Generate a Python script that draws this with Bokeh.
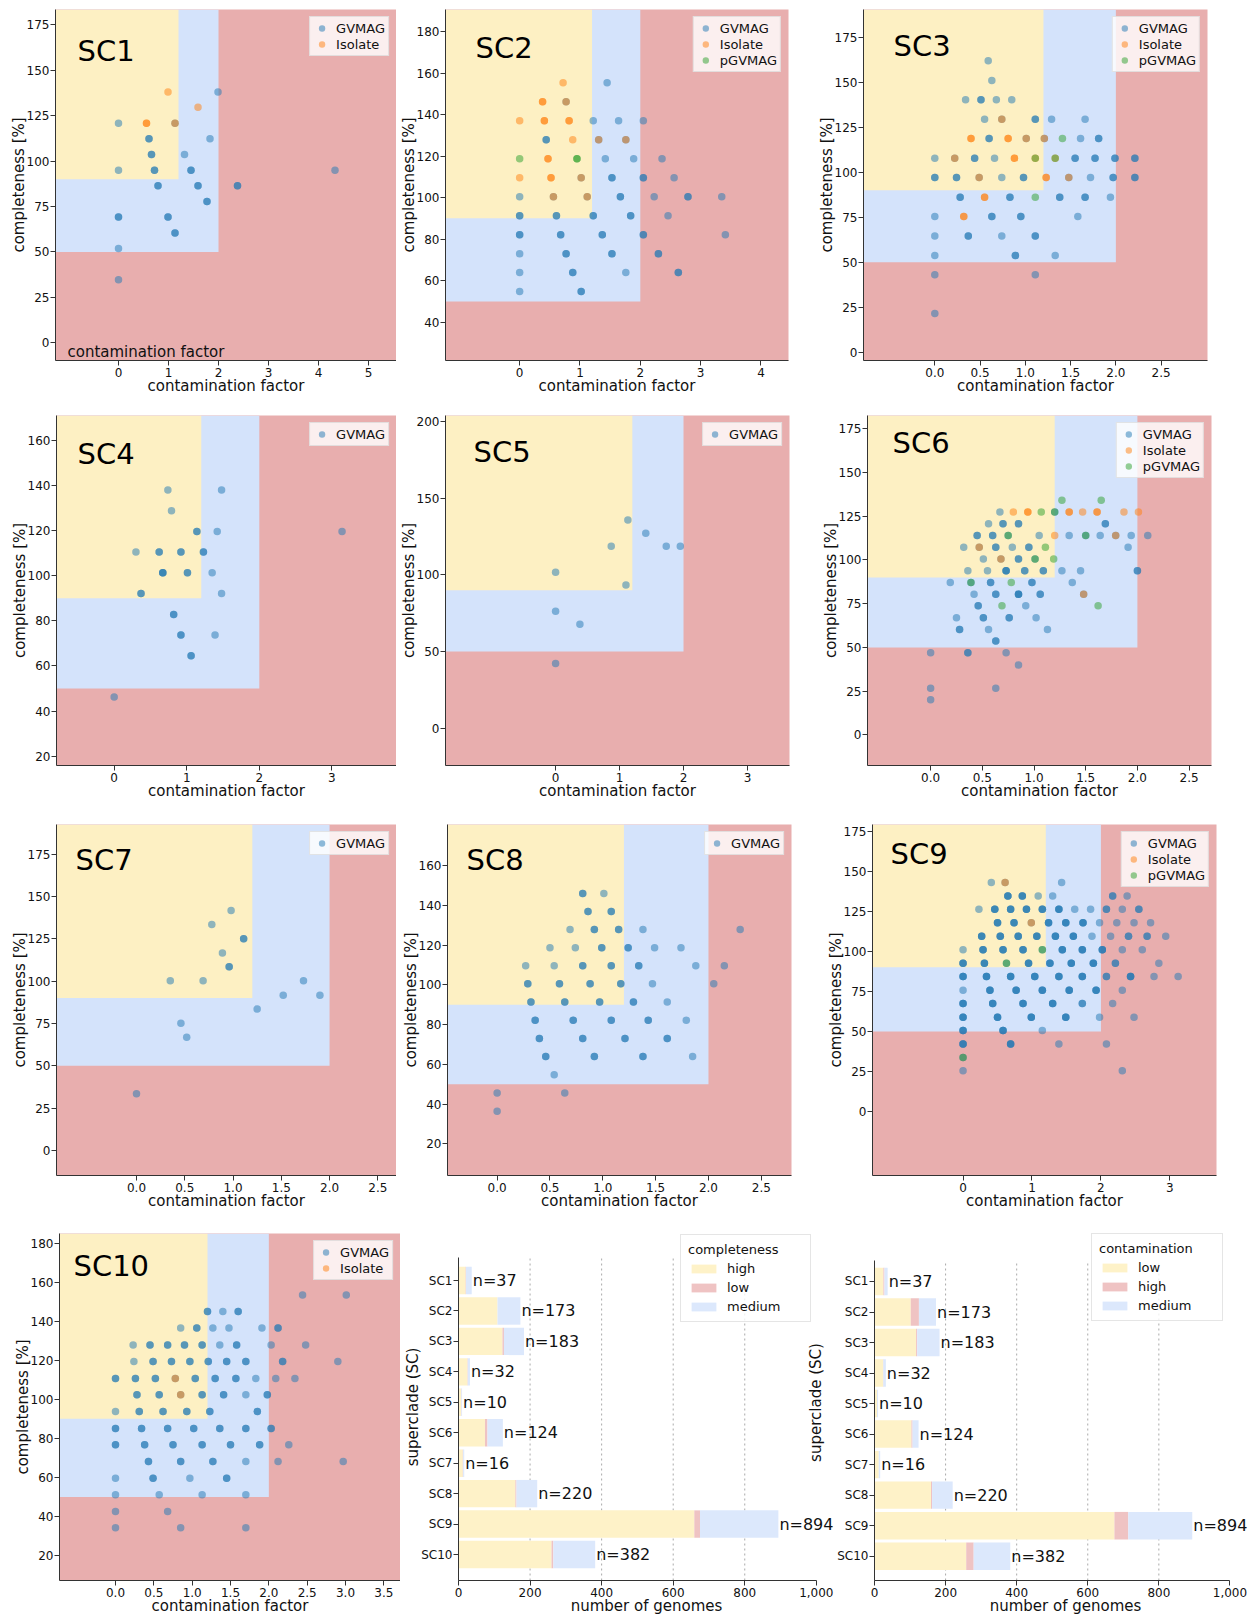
import math
import numpy as np
from bokeh.plotting import figure
from bokeh.layouts import column, row
from bokeh.models import (BoxAnnotation, ColumnDataSource, FixedTicker, Label, LabelSet,
                          Legend, LegendItem, NumeralTickFormatter, Range1d)
from bokeh.core.properties import value
from bokeh.embed import file_html
from bokeh.resources import INLINE

# ---------------------------------------------------------------- data
X_LABEL = "contamination factor"
Y_LABEL = "completeness [%]"

# thresholds of the shaded quality regions
HIGH_COMPLETENESS = 90
MIN_COMPLETENESS = 50
LOW_CONTAMINATION = 1.2
MAX_CONTAMINATION = 2.0

# ---- SC1
SC1_GVMAG_X = [0, 0, 0, 0, 0, 1.13, 1.99, 0.61, 1.83, 0.66, 1.32, 0.72, 1.45, 4.33, 0.79, 1.59, 2.38, 1.77, 0.99, 1.13]
SC1_GVMAG_Y = [120.9, 95, 69.2, 51.9, 34.7, 120.9, 138.1, 112.3, 112.3, 103.6, 103.6, 95, 95, 95, 86.4, 86.4, 86.4, 77.8, 69.2, 60.5]
SC1_GVMAG_N = [1, 1, 2, 1, 1, 1, 1, 2, 1, 2, 1, 2, 2, 1, 2, 2, 2, 2, 2, 2]
SC1_ISOLATE_X = [0.99, 1.59, 0.56, 1.13]
SC1_ISOLATE_Y = [138.1, 129.7, 120.9, 120.9]
SC1_ISOLATE_N = [1, 1, 2, 1]
SC1_XTICKS = [0, 1, 2, 3, 4, 5]
SC1_YTICKS = [0, 25, 50, 75, 100, 125, 150, 175]

# ---- SC2
SC2_GVMAG_X = [1.45, 0.77, 1.22, 1.64, 2.05, 0.44, 1.31, 1.76, 1.42, 1.89, 2.36,
               1.02, 1.53, 2.05, 2.56, 0, 0.56, 1.12, 1.67, 2.23, 2.79, 3.35,
               0, 0.61, 1.22, 1.84, 2.46, 0, 0.68, 1.37, 2.05, 3.41,
               0, 0.77, 1.53, 2.30, 0, 0.88, 1.76, 2.63, 0, 1.02]
SC2_GVMAG_Y = [155.3, 146.1, 137, 137, 137, 127.8, 127.8, 127.8, 118.7, 118.7, 118.7,
               109.5, 109.5, 109.5, 109.5, 100.4, 100.4, 100.4, 100.4, 100.4, 100.4, 100.4,
               91.2, 91.2, 91.2, 91.2, 91.2, 82.1, 82.1, 82.1, 82.1, 82.1,
               72.9, 72.9, 72.9, 72.9, 63.9, 63.9, 63.9, 63.9, 54.8, 54.8]
SC2_GVMAG_N = [1, 1, 1, 1, 1, 2, 1, 1, 1, 1, 1,
               1, 2, 2, 1, 1, 1, 1, 2, 1, 2, 1,
               2, 2, 2, 2, 1, 2, 2, 2, 2, 1,
               1, 2, 2, 2, 1, 2, 1, 2, 1, 2]
SC2_ISOLATE_X = [0.72, 0.38, 0.77, 0, 0.41, 0.82, 0.88, 1.31, 1.76, 0.47, 0, 0.52, 1.02, 0.56, 1.12]
SC2_ISOLATE_Y = [155.3, 146.1, 146.1, 137, 137, 137, 127.8, 127.8, 127.8, 118.7, 109.5, 109.5, 109.5, 100.4, 100.4]
SC2_ISOLATE_N = [1, 2, 1, 1, 2, 2, 1, 1, 1, 2, 1, 2, 1, 1, 1]
SC2_PGVMAG_X = [0, 0.95]
SC2_PGVMAG_Y = [118.7, 118.7]
SC2_PGVMAG_N = [1, 2]
SC2_XTICKS = [0, 1, 2, 3, 4]
SC2_YTICKS = [40, 60, 80, 100, 120, 140, 160, 180]

# ---- SC3
SC3_GVMAG_X = [0.59, 0.63, 0.34, 0.51, 0.68, 0.85,
               0.55, 0.74, 1.11, 1.29, 1.66,
               0.60, 1.01, 1.21, 1.61, 1.81,
               0, 0.22, 0.44, 0.66, 1.55, 1.77, 1.99, 2.21,
               0, 0.24, 0.49, 0.74, 0.98, 1.48, 1.72, 1.97, 2.21,
               0.28, 0.83, 1.38, 1.66, 1.94,
               0, 0.63, 0.95, 1.58,
               0, 0.37, 0.74, 1.11,
               0, 0.89, 1.33,
               0, 1.11, 0]
SC3_GVMAG_Y = [161.9, 150.9, 140.2, 140.2, 140.2, 140.2,
               129.4, 129.4, 129.4, 129.4, 129.4,
               118.7, 118.7, 118.7, 118.7, 118.7,
               107.8, 107.8, 107.8, 107.8, 107.8, 107.8, 107.8, 107.8,
               97, 97, 97, 97, 97, 97, 97, 97, 97,
               86.1, 86.1, 86.1, 86.1, 86.1,
               75.4, 75.4, 75.4, 75.4,
               64.6, 64.6, 64.6, 64.6,
               53.7, 53.7, 53.7,
               43, 43, 21.5]
SC3_GVMAG_N = [1, 1, 1, 2, 1, 1,
               1, 1, 2, 1, 1,
               2, 1, 1, 1, 2,
               1, 1, 2, 1, 2, 2, 2, 2,
               2, 2, 1, 1, 2, 1, 1, 2, 2,
               2, 2, 2, 2, 1,
               1, 2, 2, 1,
               1, 2, 1, 2,
               1, 2, 1,
               1, 1, 1]
SC3_ISOLATE_X = [0.74, 0.40, 0.81, 1.01, 1.21, 0.22, 0.88, 1.11, 1.33, 0.49, 1.23, 1.48, 0.55, 0.32]
SC3_ISOLATE_Y = [129.4, 118.7, 118.7, 118.7, 118.7, 107.8, 107.8, 107.8, 107.8, 97, 97, 97, 86.1, 75.4]
SC3_ISOLATE_N = [1, 2, 2, 1, 1, 1, 2, 1, 1, 1, 2, 1, 2, 2]
SC3_PGVMAG_X = [1.41, 1.11, 1.33, 1.11]
SC3_PGVMAG_Y = [118.7, 107.8, 107.8, 86.1]
SC3_PGVMAG_N = [1, 1, 1, 1]
SC3_XTICKS = [0.0, 0.5, 1.0, 1.5, 2.0, 2.5]
SC3_YTICKS = [0, 25, 50, 75, 100, 125, 150, 175]

# ---- SC4
SC4_GVMAG_X = [0.74, 1.48, 0.79, 1.14, 1.42, 3.14, 0.30, 0.62, 0.92, 1.23, 0.67, 1.01, 1.35, 0.37, 1.48, 0.82, 0.92, 1.39, 1.06, 0]
SC4_GVMAG_Y = [138, 138, 128.8, 119.6, 119.6, 119.6, 110.5, 110.5, 110.5, 110.5, 101.3, 101.3, 101.3, 92.1, 92.1, 82.8, 73.7, 73.7, 64.5, 46.2]
SC4_GVMAG_N = [1, 1, 1, 2, 1, 1, 1, 2, 2, 2, 3, 2, 1, 2, 1, 2, 2, 1, 2, 1]
SC4_XTICKS = [0, 1, 2, 3]
SC4_YTICKS = [20, 40, 60, 80, 100, 120, 140, 160]

# ---- SC5
SC5_GVMAG_X = [1.13, 1.41, 0.87, 1.73, 1.95, 0, 1.10, 0, 0.38, 0]
SC5_GVMAG_Y = [135.7, 127.2, 118.7, 118.7, 118.7, 101.7, 93.3, 76.3, 67.8, 42.2]
SC5_GVMAG_N = [1, 1, 1, 1, 1, 1, 1, 1, 1, 1]
SC5_XTICKS = [0, 1, 2, 3]
SC5_YTICKS = [0, 50, 100, 150, 200]

# ---- SC6
SC6_GVMAG_X = [0.67, 1.20,
               0.56, 0.70, 0.85, 1.69,
               0.45, 0.60, 0.75, 1.05, 1.34, 1.50, 1.64, 1.79, 1.94, 2.10,
               0.32, 0.47, 0.63, 0.79, 0.95, 1.91,
               0.51, 0.68, 0.85, 1.01,
               0.36, 0.55, 0.73, 0.91, 1.09, 1.27, 1.45, 2.00,
               0.19, 0.39, 0.58, 0.98, 1.37,
               0.42, 0.63, 0.85, 1.06, 1.48,
               0.46, 0.92,
               0.25, 0.51, 0.76, 1.02,
               0.28, 0.56, 1.13,
               0.63,
               0, 0.36, 0.73,
               0.85,
               0, 0.63,
               0]
SC6_GVMAG_Y = [127.5, 127.5,
               120.7, 120.7, 120.7, 120.7,
               114, 114, 114, 114, 114, 114, 114, 114, 114, 114,
               107.3, 107.3, 107.3, 107.3, 107.3, 107.3,
               100.6, 100.6, 100.6, 100.6,
               93.8, 93.8, 93.8, 93.8, 93.8, 93.8, 93.8, 93.8,
               87.1, 87.1, 87.1, 87.1, 87.1,
               80.4, 80.4, 80.4, 80.4, 80.4,
               73.8, 73.8,
               66.9, 66.9, 66.9, 66.9,
               60.2, 60.2, 60.2,
               53.6,
               46.9, 46.9, 46.9,
               40,
               26.7, 26.7,
               20]
SC6_GVMAG_N = [1, 1,
               1, 2, 2, 2,
               2, 2, 1, 1, 1, 1, 1, 1, 1, 1,
               1, 1, 2, 1, 2, 1,
               1, 1, 2, 1,
               1, 1, 3, 2, 2, 1, 1, 2,
               1, 1, 2, 2, 1,
               1, 2, 3, 2, 1,
               2, 1,
               1, 2, 2, 1,
               2, 1, 1,
               2,
               1, 2, 1,
               1,
               1, 1,
               1]
SC6_ISOLATE_X = [0.80, 0.94, 1.34, 1.47, 1.61, 1.87, 2.01, 1.20, 1.79, 0.47, 0.68, 1.48]
SC6_ISOLATE_Y = [127.5, 127.5, 127.5, 127.5, 127.5, 127.5, 127.5, 114, 114, 107.3, 100.6, 80.4]
SC6_ISOLATE_N = [1, 2, 2, 1, 2, 1, 1, 1, 1, 1, 1, 1]
SC6_PGVMAG_X = [1.27, 1.65, 1.07, 1.20, 0.75, 1.50, 1.11, 1.01, 1.19, 0.39, 0.78, 0.69, 1.62]
SC6_PGVMAG_Y = [134.2, 134.2, 127.5, 127.5, 114, 114, 107.3, 100.6, 100.6, 87.1, 87.1, 73.8, 73.8]
SC6_PGVMAG_N = [1, 1, 1, 1, 1, 1, 1, 1, 1, 1, 1, 1, 1]
SC6_XTICKS = [0.0, 0.5, 1.0, 1.5, 2.0, 2.5]
SC6_YTICKS = [0, 25, 50, 75, 100, 125, 150, 175]

# ---- SC7
SC7_GVMAG_X = [0.98, 0.78, 1.11, 0.89, 0.96, 0.35, 0.69, 1.73, 1.52, 1.90, 1.25, 0.46, 0.52, 0]
SC7_GVMAG_Y = [141.7, 133.5, 125, 116.7, 108.5, 100.2, 100.2, 100.2, 91.7, 91.7, 83.5, 75.2, 66.9, 33.5]
SC7_GVMAG_N = [1, 1, 2, 1, 2, 1, 1, 1, 1, 1, 1, 1, 1, 1]
SC7_XTICKS = [0.0, 0.5, 1.0, 1.5, 2.0, 2.5]
SC7_YTICKS = [0, 25, 50, 75, 100, 125, 150, 175]

# ---- SC8
SC8_GVMAG_X = [0.81, 1.01,
               0.86, 1.08,
               0.69, 0.92, 1.15, 1.38, 2.30,
               0.50, 0.74, 0.99, 1.24, 1.49, 1.74,
               0.27, 0.54, 0.81, 1.08, 1.34, 1.88, 2.15,
               0.29, 0.59, 0.88, 1.17, 1.47, 2.05,
               0.32, 0.64, 0.97, 1.29, 1.61,
               0.36, 0.72, 1.08, 1.43, 1.79,
               0.40, 0.81, 1.21, 1.61,
               0.46, 0.92, 1.38, 1.85,
               0.54,
               0, 0.64,
               0]
SC8_GVMAG_Y = [145.9, 145.9,
               136.9, 136.9,
               127.8, 127.8, 127.8, 127.8, 127.8,
               118.6, 118.6, 118.6, 118.6, 118.6, 118.6,
               109.6, 109.6, 109.6, 109.6, 109.6, 109.6, 109.6,
               100.5, 100.5, 100.5, 100.5, 100.5, 100.5,
               91.3, 91.3, 91.3, 91.3, 91.3,
               82.2, 82.2, 82.2, 82.2, 82.2,
               73, 73, 73, 73,
               63.9, 63.9, 63.9, 63.9,
               54.7,
               45.6, 45.6,
               36.4]
SC8_GVMAG_N = [2, 1,
               2, 2,
               1, 2, 2, 1, 1,
               1, 1, 2, 2, 1, 1,
               1, 1, 2, 2, 2, 1, 1,
               2, 2, 2, 2, 1, 1,
               2, 2, 2, 2, 1,
               2, 2, 2, 2, 1,
               2, 2, 2, 2,
               2, 2, 2, 1,
               1,
               1, 1,
               1]
SC8_XTICKS = [0.0, 0.5, 1.0, 1.5, 2.0, 2.5]
SC8_YTICKS = [20, 40, 60, 80, 100, 120, 140, 160]

# ---- SC9
SC9_GVMAG_X = [0.41, 0.61, 1.43,
               0.65, 0.86, 1.09, 1.30, 2.17, 2.38,
               0.23, 0.46, 0.69, 0.92, 1.15, 1.39, 1.62, 1.85, 2.08, 2.31, 2.55,
               0.50, 0.74, 0.99, 1.24, 1.49, 1.74, 1.98, 2.23, 2.48, 2.72,
               0.27, 0.54, 0.80, 1.07, 1.34, 1.60, 1.87, 2.14, 2.40, 2.67, 2.94,
               0, 0.29, 0.58, 0.87, 1.15, 1.44, 1.73, 2.02, 2.31, 2.60,
               0, 0.31, 0.63, 0.95, 1.26, 1.57, 1.89, 2.21, 2.84,
               0, 0.34, 0.69, 1.04, 1.39, 1.73, 2.08, 2.43, 2.77, 3.12,
               0, 0.39, 0.77, 1.15, 1.54, 1.93, 2.31,
               0, 0.43, 0.87, 1.30, 1.73, 2.17,
               0, 0.50, 0.99, 1.49, 1.98, 2.48,
               0, 0.58, 1.15,
               0, 0.69, 1.39, 2.08,
               0,
               0, 2.31]
SC9_GVMAG_Y = [143, 143, 143,
               134.6, 134.6, 134.6, 134.6, 134.6, 134.6,
               126.3, 126.3, 126.3, 126.3, 126.3, 126.3, 126.3, 126.3, 126.3, 126.3, 126.3,
               117.8, 117.8, 117.8, 117.8, 117.8, 117.8, 117.8, 117.8, 117.8, 117.8,
               109.4, 109.4, 109.4, 109.4, 109.4, 109.4, 109.4, 109.4, 109.4, 109.4, 109.4,
               100.9, 100.9, 100.9, 100.9, 100.9, 100.9, 100.9, 100.9, 100.9, 100.9,
               92.6, 92.6, 92.6, 92.6, 92.6, 92.6, 92.6, 92.6, 92.6,
               84.3, 84.3, 84.3, 84.3, 84.3, 84.3, 84.3, 84.3, 84.3, 84.3,
               75.7, 75.7, 75.7, 75.7, 75.7, 75.7, 75.7,
               67.4, 67.4, 67.4, 67.4, 67.4, 67.4,
               58.9, 58.9, 58.9, 58.9, 58.9, 58.9,
               50.6, 50.6, 50.6,
               42.2, 42.2, 42.2, 42.2,
               33.7,
               25.4, 25.4]
SC9_GVMAG_N = [1, 1, 1,
               3, 3, 1, 1, 2, 1,
               1, 3, 3, 3, 3, 3, 1, 1, 2, 1, 2,
               3, 3, 1, 3, 3, 3, 1, 1, 1, 1,
               3, 3, 3, 3, 3, 3, 1, 1, 2, 2, 1,
               1, 3, 3, 3, 1, 3, 3, 3, 1, 1,
               3, 3, 1, 3, 3, 3, 3, 2, 1,
               3, 3, 3, 3, 3, 3, 2, 3, 1, 1,
               1, 3, 3, 3, 3, 3, 1,
               3, 3, 3, 3, 2, 1,
               3, 3, 3, 3, 1, 1,
               3, 3, 1,
               3, 3, 1, 1,
               1,
               1, 1]
SC9_ISOLATE_X = [0.61, 0.99]
SC9_ISOLATE_Y = [143, 117.8]
SC9_ISOLATE_N = [1, 1]
SC9_PGVMAG_X = [1.15, 0.63, 0]
SC9_PGVMAG_Y = [100.9, 92.6, 33.7]
SC9_PGVMAG_N = [1, 1, 1]
SC9_XTICKS = [0, 1, 2, 3]
SC9_YTICKS = [0, 25, 50, 75, 100, 125, 150, 175]

# ---- SC10
SC10_GVMAG_X = [2.44, 3.01,
                1.20, 1.40, 1.60,
                0.85, 1.06, 1.27, 1.48, 1.91, 2.12,
                0.23, 0.45, 0.68, 0.90, 1.13, 1.36, 1.58, 2.03, 2.48,
                0.24, 0.49, 0.73, 0.97, 1.21, 1.45, 1.70, 2.18, 2.90,
                0, 0.26, 0.52, 0.78, 1.04, 1.30, 1.57, 1.83, 2.09, 2.34,
                0.28, 0.57, 0.85, 1.13, 1.41, 1.70, 1.98,
                0, 0.31, 0.62, 0.93, 1.23, 1.85,
                0, 0.34, 0.68, 1.02, 1.36, 1.70, 2.03,
                0, 0.38, 0.75, 1.13, 1.50, 1.88, 2.26,
                0.43, 0.85, 1.27, 1.70, 2.12, 2.97,
                0, 0.49, 0.97, 1.45,
                0, 0.57, 1.13, 1.70,
                0, 0.68,
                0, 0.85, 1.70]
SC10_GVMAG_Y = [153.4, 153.4,
                145, 145, 145,
                136.5, 136.5, 136.5, 136.5, 136.5, 136.5,
                127.8, 127.8, 127.8, 127.8, 127.8, 127.8, 127.8, 127.8, 127.8,
                119.4, 119.4, 119.4, 119.4, 119.4, 119.4, 119.4, 119.4, 119.4,
                110.7, 110.7, 110.7, 110.7, 110.7, 110.7, 110.7, 110.7, 110.7, 110.7,
                102.3, 102.3, 102.3, 102.3, 102.3, 102.3, 102.3,
                93.8, 93.8, 93.8, 93.8, 93.8, 93.8,
                85.1, 85.1, 85.1, 85.1, 85.1, 85.1, 85.1,
                76.7, 76.7, 76.7, 76.7, 76.7, 76.7, 76.7,
                68.1, 68.1, 68.1, 68.1, 68.1, 68.1,
                59.6, 59.6, 59.6, 59.6,
                51.1, 51.1, 51.1, 51.1,
                42.5, 42.5,
                34.2, 34.2, 34.2]
SC10_GVMAG_N = [1, 1,
                2, 1, 2,
                1, 2, 1, 1, 1, 2,
                1, 2, 2, 2, 2, 1, 2, 1, 1,
                1, 2, 2, 2, 2, 2, 2, 2, 1,
                2, 2, 2, 1, 2, 2, 2, 1, 1, 1,
                2, 2, 1, 2, 2, 1, 2,
                1, 2, 2, 2, 2, 2,
                2, 2, 2, 2, 2, 2, 2,
                2, 2, 2, 2, 2, 2, 1,
                2, 2, 2, 1, 1, 1,
                1, 2, 1, 2,
                1, 1, 1, 1,
                1, 1,
                1, 1, 1]
SC10_ISOLATE_X = [0.78, 0.85]
SC10_ISOLATE_Y = [110.7, 102.3]
SC10_ISOLATE_N = [1, 1]
SC10_XTICKS = [0.0, 0.5, 1.0, 1.5, 2.0, 2.5, 3.0, 3.5]
SC10_YTICKS = [20, 40, 60, 80, 100, 120, 140, 160, 180]

# ---- bar charts
SUPERCLADES = ["SC1", "SC2", "SC3", "SC4", "SC5", "SC6", "SC7", "SC8", "SC9", "SC10"]
TOTALS = [37, 173, 183, 32, 10, 124, 16, 220, 894, 382]
COMPLETENESS_HIGH = [20, 109, 123, 25, 7, 74, 12, 159, 659, 260]
COMPLETENESS_LOW = [1, 0, 4, 1, 1, 7, 1, 3, 16, 5]
COMPLETENESS_MEDIUM = [16, 64, 56, 6, 2, 43, 3, 58, 219, 117]
CONTAMINATION_LOW = [25, 102, 117, 24, 7, 104, 12, 159, 675, 258]
CONTAMINATION_HIGH = [3, 23, 3, 1, 0, 3, 0, 3, 39, 21]
CONTAMINATION_MEDIUM = [9, 48, 63, 7, 3, 17, 4, 58, 180, 103]
BAR_XTICKS = [0, 200, 400, 600, 800, 1000]

# ---------------------------------------------------------------- style / layout
FONT = "DejaVu Sans"
TEXT = "#111111"
SPINE = "#333333"
RED_BG = "#e8aeae"
BLUE_BG = "#d4e3fb"
YELLOW_BG = "#fdf0c3"
BAR_YELLOW = "#fef2c8"
BAR_PINK = "#efc3c3"
BAR_BLUE = "#dce8fc"
TYPE_COLORS = {"GVMAG": "#1f77b4", "Isolate": "#ff7f0e", "pGVMAG": "#2ca02c"}

# canvas = (left, top, width, height) px; frame = (left, right, top, bottom) px
# cx / cy = (pixel of value 0, pixels per unit) used to derive the axis ranges
LAYOUT = {
    "SC1": dict(canvas=(0, 0, 396, 400), frame=(55, 396, 9, 360), cx=(118.0, 50.0), cy=(342.33, 1.8171), title=(22, 41)),
    "SC2": dict(canvas=(396, 0, 414, 400), frame=(444.3, 788.3, 9, 360), cx=(518.67, 60.5), cy=(404.7, 2.0762), title=(30, 38)),
    "SC3": dict(canvas=(810, 0, 446, 400), frame=(862.7, 1206.7, 9, 360), cx=(934.0, 90.53), cy=(351.67, 1.8), title=(30, 36)),
    "SC4": dict(canvas=(0, 400, 396, 408), frame=(56, 396, 415, 765), cx=(113.67, 72.57), cy=(800.76, 2.2548), title=(21, 38)),
    "SC5": dict(canvas=(396, 400, 414, 408), frame=(445, 788.7, 415, 765), cx=(555.0, 63.9), cy=(727.67, 1.5333), title=(28, 36)),
    "SC6": dict(canvas=(810, 400, 446, 408), frame=(867.3, 1210.7, 415, 765), cx=(930.33, 103.2), cy=(734.33, 1.7486), title=(25, 27)),
    "SC7": dict(canvas=(0, 808, 396, 407), frame=(56, 396, 824, 1175), cx=(136.0, 96.53), cy=(1150.0, 1.6933), title=(19, 35)),
    "SC8": dict(canvas=(396, 808, 414, 407), frame=(446.7, 790.7, 824, 1175), cx=(496.33, 105.67), cy=(1183.1, 1.9881), title=(19, 35)),
    "SC9": dict(canvas=(810, 808, 446, 407), frame=(871.7, 1216, 824, 1175), cx=(962.33, 69.0), cy=(1111.0, 1.6019), title=(18, 29)),
    "SC10": dict(canvas=(0, 1215, 400, 406), frame=(59, 400, 1233, 1580), cx=(115.0, 76.67), cy=(1594.04, 1.9521), title=(14, 32)),
    "BAR1": dict(canvas=(400, 1215, 434, 406), frame=(458.3, 834, 1233, 1580), cx=(458.33, 0.3575), cy=(1554.0, 30.44),
                 axis_top=1256.7, legend=(222, 258), label_width=76),
    "BAR2": dict(canvas=(834, 1215, 422, 406), frame=(871.7, 1256, 1233, 1580), cx=(871.67, 0.3576), cy=(1555.67, 30.52),
                 axis_top=1260.0, legend=(217, 259), label_width=77),
}


def ranges(lay):
    fl, fr, ft, fb = lay["frame"]
    x0, kx = lay["cx"]
    y0, ky = lay["cy"]
    return ((fl - x0) / kx, (fr - x0) / kx), ((y0 - fb) / ky, (y0 - ft) / ky)


def make_fig(lay, xr, yr):
    cl, ct, cw, ch = lay["canvas"]
    fl, fr, ft, fb = lay["frame"]
    p = figure(width=cw, height=ch,
               x_range=Range1d(*xr), y_range=Range1d(*yr),
               output_backend="svg", toolbar_location=None,
               min_border_left=int(round(fl - cl)), min_border_right=int(round(cl + cw - fr)),
               min_border_top=int(round(ft - ct)), min_border_bottom=int(round(ct + ch - fb)))
    p.outline_line_color = None
    p.border_fill_color = "white"
    p.grid.visible = False
    for ax in p.axis:
        ax.major_tick_out = 5
        ax.major_tick_in = 0
        ax.minor_tick_out = 0
        ax.minor_tick_in = 0
        ax.axis_line_color = SPINE
        ax.major_tick_line_color = SPINE
        ax.major_label_text_font = FONT
        ax.major_label_text_font_size = "12px"
        ax.major_label_text_color = TEXT
        ax.axis_label_text_font = FONT
        ax.axis_label_text_font_size = "15px"
        ax.axis_label_text_font_style = "normal"
        ax.axis_label_text_color = TEXT
    p.xaxis.major_label_standoff = 2
    p.xaxis.axis_label_standoff = -3
    p.yaxis.major_label_standoff = 1
    p.yaxis.axis_label_standoff = -4
    return p


def scatter_panel(name, series, xticks, yticks):
    lay = LAYOUT[name]
    xr, yr = ranges(lay)
    p = make_fig(lay, xr, yr)
    p.background_fill_color = RED_BG
    p.add_layout(BoxAnnotation(right=MAX_CONTAMINATION, bottom=MIN_COMPLETENESS,
                               fill_color=BLUE_BG, fill_alpha=1.0, line_color=None, level="underlay"))
    p.add_layout(BoxAnnotation(right=LOW_CONTAMINATION, bottom=HIGH_COMPLETENESS,
                               fill_color=YELLOW_BG, fill_alpha=1.0, line_color=None, level="underlay"))
    items = []
    for kind, xs, ys, ns in series:
        src = ColumnDataSource(dict(x=np.repeat(np.array(xs, dtype=float), ns),
                                    y=np.repeat(np.array(ys, dtype=float), ns)))
        r = p.scatter("x", "y", source=src, marker="circle", size=7.5,
                      fill_color=TYPE_COLORS[kind], fill_alpha=0.5, line_color=None)
        items.append(LegendItem(label=kind, renderers=[r]))
    leg = Legend(items=items, location="top_right")
    leg.margin = 7
    leg.padding = 3
    leg.spacing = 0
    leg.glyph_width = 17
    leg.glyph_height = 16
    leg.label_height = 16
    leg.label_standoff = 6
    leg.label_text_font = FONT
    leg.label_text_font_size = "13px"
    leg.label_text_color = TEXT
    leg.background_fill_color = "white"
    leg.background_fill_alpha = 0.8
    leg.border_line_color = "#cccccc"
    p.add_layout(leg)

    frac = any(float(t) != int(t) for t in xticks)
    p.xaxis.ticker = FixedTicker(ticks=xticks)
    p.xaxis.formatter = NumeralTickFormatter(format="0.0" if frac else "0")
    p.yaxis.ticker = FixedTicker(ticks=yticks)
    p.yaxis.formatter = NumeralTickFormatter(format="0")
    p.xaxis.axis_label = X_LABEL
    p.yaxis.axis_label = Y_LABEL

    tx, ty = lay["title"]
    p.add_layout(Label(x=xr[0], y=yr[1], x_offset=tx, y_offset=-ty, text=name,
                       text_font=FONT, text_font_size="29px", text_color="black",
                       text_align="left", text_baseline="alphabetic"))
    if name == "SC1":
        p.add_layout(Label(x=xr[0], y=yr[0], x_offset=12, y_offset=9, text=X_LABEL,
                           text_font=FONT, text_font_size="15px", text_color=TEXT,
                           text_align="left", text_baseline="alphabetic"))
    return p


def bar_panel(key, legend_title, names, stacks, colors, with_ylabel):
    lay = LAYOUT[key]
    xr, yr = ranges(lay)
    xr = (0, xr[1])
    y0, ky = lay["cy"]
    y_axis_top = (y0 - lay["axis_top"]) / ky
    p = make_fig(lay, xr, yr)
    n = len(SUPERCLADES)
    ypos = np.arange(n)[::-1].astype(float)

    grid_x = BAR_XTICKS[1:-1]
    p.segment(x0=grid_x, y0=[yr[0]] * len(grid_x), x1=grid_x, y1=[y_axis_top] * len(grid_x),
              line_color="#aaaaaa", line_width=1, line_dash="2 3")

    left = np.zeros(n)
    items = []
    for nm, vals, col in zip(names, stacks, colors):
        right = left + np.array(vals, dtype=float)
        r = p.hbar(y=ypos, left=left, right=right, height=0.9, fill_color=col, line_color=None)
        items.append(LegendItem(label=nm, renderers=[r]))
        left = right

    src = ColumnDataSource(dict(x=np.array(TOTALS, dtype=float), y=ypos,
                                t=["n=%d" % v for v in TOTALS]))
    p.add_layout(LabelSet(x="x", y="y", text="t", source=src, x_offset=1,
                          text_baseline="middle", text_align="left",
                          text_font=value(FONT), text_font_size=value("16px"), text_color=value(TEXT)))

    p.xaxis.ticker = FixedTicker(ticks=BAR_XTICKS)
    p.xaxis.formatter = NumeralTickFormatter(format="0,0")
    p.xaxis.bounds = (BAR_XTICKS[0], BAR_XTICKS[-1])
    p.yaxis.ticker = FixedTicker(ticks=list(ypos))
    p.yaxis.major_label_overrides = {int(y): s for y, s in zip(ypos, SUPERCLADES)}
    p.yaxis.bounds = (yr[0], y_axis_top)
    p.xaxis.axis_label = "number of genomes"
    if with_ylabel:
        p.yaxis.axis_label = "superclade (SC)"

    leg = Legend(items=items, location=lay["legend"], title=legend_title)
    leg.title_text_font = FONT
    leg.title_text_font_size = "13px"
    leg.title_text_font_style = "normal"
    leg.title_text_color = TEXT
    leg.title_standoff = 4
    leg.label_text_font = FONT
    leg.label_text_font_size = "13px"
    leg.label_text_color = TEXT
    leg.glyph_width = 31
    leg.glyph_height = 11
    leg.label_height = 15
    leg.label_width = lay["label_width"]
    leg.label_standoff = 8
    leg.spacing = 4
    leg.padding = 7
    leg.background_fill_color = "white"
    leg.background_fill_alpha = 0.8
    leg.border_line_color = "#cccccc"
    p.add_layout(leg)
    return p, ypos


sc1 = scatter_panel("SC1", [("GVMAG", SC1_GVMAG_X, SC1_GVMAG_Y, SC1_GVMAG_N),
                            ("Isolate", SC1_ISOLATE_X, SC1_ISOLATE_Y, SC1_ISOLATE_N)], SC1_XTICKS, SC1_YTICKS)
sc2 = scatter_panel("SC2", [("GVMAG", SC2_GVMAG_X, SC2_GVMAG_Y, SC2_GVMAG_N),
                            ("Isolate", SC2_ISOLATE_X, SC2_ISOLATE_Y, SC2_ISOLATE_N),
                            ("pGVMAG", SC2_PGVMAG_X, SC2_PGVMAG_Y, SC2_PGVMAG_N)], SC2_XTICKS, SC2_YTICKS)
sc3 = scatter_panel("SC3", [("GVMAG", SC3_GVMAG_X, SC3_GVMAG_Y, SC3_GVMAG_N),
                            ("Isolate", SC3_ISOLATE_X, SC3_ISOLATE_Y, SC3_ISOLATE_N),
                            ("pGVMAG", SC3_PGVMAG_X, SC3_PGVMAG_Y, SC3_PGVMAG_N)], SC3_XTICKS, SC3_YTICKS)
sc4 = scatter_panel("SC4", [("GVMAG", SC4_GVMAG_X, SC4_GVMAG_Y, SC4_GVMAG_N)], SC4_XTICKS, SC4_YTICKS)
sc5 = scatter_panel("SC5", [("GVMAG", SC5_GVMAG_X, SC5_GVMAG_Y, SC5_GVMAG_N)], SC5_XTICKS, SC5_YTICKS)
sc6 = scatter_panel("SC6", [("GVMAG", SC6_GVMAG_X, SC6_GVMAG_Y, SC6_GVMAG_N),
                            ("Isolate", SC6_ISOLATE_X, SC6_ISOLATE_Y, SC6_ISOLATE_N),
                            ("pGVMAG", SC6_PGVMAG_X, SC6_PGVMAG_Y, SC6_PGVMAG_N)], SC6_XTICKS, SC6_YTICKS)
sc7 = scatter_panel("SC7", [("GVMAG", SC7_GVMAG_X, SC7_GVMAG_Y, SC7_GVMAG_N)], SC7_XTICKS, SC7_YTICKS)
sc8 = scatter_panel("SC8", [("GVMAG", SC8_GVMAG_X, SC8_GVMAG_Y, SC8_GVMAG_N)], SC8_XTICKS, SC8_YTICKS)
sc9 = scatter_panel("SC9", [("GVMAG", SC9_GVMAG_X, SC9_GVMAG_Y, SC9_GVMAG_N),
                            ("Isolate", SC9_ISOLATE_X, SC9_ISOLATE_Y, SC9_ISOLATE_N),
                            ("pGVMAG", SC9_PGVMAG_X, SC9_PGVMAG_Y, SC9_PGVMAG_N)], SC9_XTICKS, SC9_YTICKS)
sc10 = scatter_panel("SC10", [("GVMAG", SC10_GVMAG_X, SC10_GVMAG_Y, SC10_GVMAG_N),
                              ("Isolate", SC10_ISOLATE_X, SC10_ISOLATE_Y, SC10_ISOLATE_N)], SC10_XTICKS, SC10_YTICKS)

bar1, ypos1 = bar_panel("BAR1", "completeness", ["high", "low", "medium"],
                        [COMPLETENESS_HIGH, COMPLETENESS_LOW, COMPLETENESS_MEDIUM],
                        [BAR_YELLOW, BAR_PINK, BAR_BLUE], True)
bar2, ypos2 = bar_panel("BAR2", "contamination", ["low", "high", "medium"],
                        [CONTAMINATION_LOW, CONTAMINATION_HIGH, CONTAMINATION_MEDIUM],
                        [BAR_YELLOW, BAR_PINK, BAR_BLUE], False)
# the y-axis title of the right-hand bar chart sits in the gap between the two bar charts
bar1.add_layout(Label(x=BAR_XTICKS[-1], y=float(np.mean(ypos1)), y_offset=15,
                      text="superclade (SC)", angle=math.pi / 2,
                      text_font=FONT, text_font_size="15px", text_color=TEXT,
                      text_align="center", text_baseline="middle"))

layout = column(row(sc1, sc2, sc3), row(sc4, sc5, sc6), row(sc7, sc8, sc9), row(sc10, bar1, bar2))
open("out.html", "w").write(file_html(layout, INLINE))
